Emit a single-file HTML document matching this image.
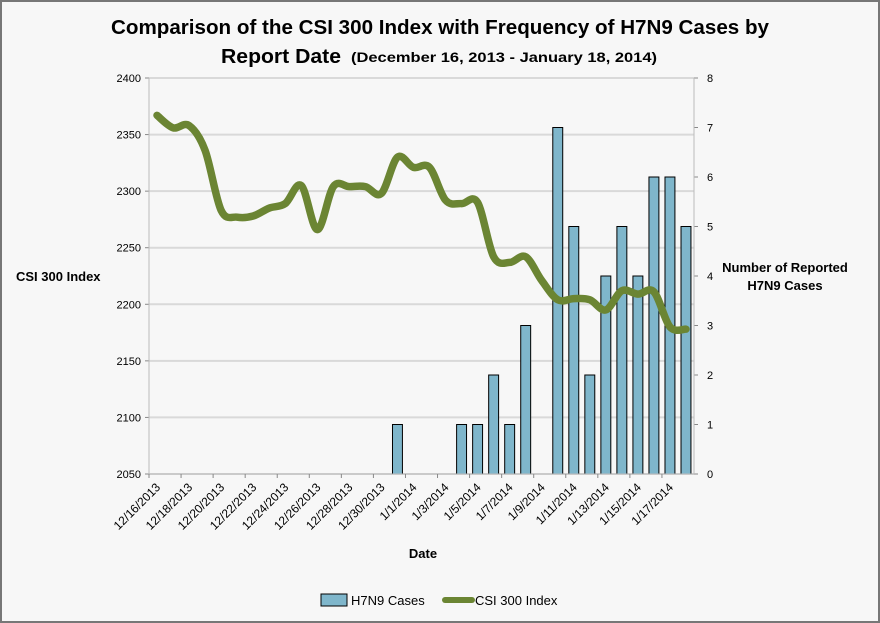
<!DOCTYPE html>
<html><head><meta charset="utf-8"><style>
html,body{margin:0;padding:0;background:#fff}
svg{display:block}
text{font-family:"Liberation Sans",sans-serif;fill:#000}
</style></head><body>
<svg id="chart" width="880" height="623" viewBox="0 0 880 623" xmlns="http://www.w3.org/2000/svg">
<rect x="1" y="1" width="878" height="621" fill="#f7f7f7" stroke="#777" stroke-width="2"/>
<text x="440" y="34" text-anchor="middle" font-size="20" font-weight="bold" textLength="658" lengthAdjust="spacingAndGlyphs">Comparison of the CSI 300 Index with Frequency of H7N9 Cases by</text>
<text x="221" y="63" font-size="20" font-weight="bold" textLength="120" lengthAdjust="spacingAndGlyphs">Report Date</text>
<text x="351" y="62" font-size="14" font-weight="bold" textLength="306" lengthAdjust="spacingAndGlyphs">(December 16, 2013 - January 18, 2014)</text>
<g id="grid"></g>
<g id="bars"></g>
<g id="axes"></g>
<path id="line" fill="none" stroke="#6b8533" stroke-width="7.5" stroke-linecap="round" stroke-linejoin="round"/>
<text x="16" y="281" font-size="13" font-weight="bold">CSI 300 Index</text>
<text x="785" y="272" text-anchor="middle" font-size="13" font-weight="bold">Number of Reported</text>
<text x="785" y="290" text-anchor="middle" font-size="13" font-weight="bold">H7N9 Cases</text>
<text x="423" y="558" text-anchor="middle" font-size="13" font-weight="bold">Date</text>
<g>
<rect x="321" y="594" width="26" height="12" fill="#7fb6cb" stroke="#000" stroke-width="1"/>
<text x="351" y="605" font-size="13">H7N9 Cases</text>
<line x1="445" y1="600" x2="472" y2="600" stroke="#6b8533" stroke-width="6" stroke-linecap="round"/>
<text x="475" y="605" font-size="13">CSI 300 Index</text>
</g>
</svg>
<script>
const categories = ["12/16/2013","12/17/2013","12/18/2013","12/19/2013","12/20/2013","12/21/2013","12/22/2013","12/23/2013","12/24/2013","12/25/2013","12/26/2013","12/27/2013","12/28/2013","12/29/2013","12/30/2013","12/31/2013","1/1/2014","1/2/2014","1/3/2014","1/4/2014","1/5/2014","1/6/2014","1/7/2014","1/8/2014","1/9/2014","1/10/2014","1/11/2014","1/12/2014","1/13/2014","1/14/2014","1/15/2014","1/16/2014","1/17/2014","1/18/2014"];
const cases = [0,0,0,0,0,0,0,0,0,0,0,0,0,0,0,1,0,0,0,1,1,2,1,3,0,7,5,2,4,5,4,6,6,5];
const csi = [2367,2356,2358,2336,2283,2277,2278,2285,2289,2305,2266,2304,2304,2304,2298,2330,2321,2321,2292,2289,2290,2242,2237,2242,2221,2204,2205,2204,2195,2212,2209,2211,2180,2178];
const leftTicks = [2050,2100,2150,2200,2250,2300,2350,2400];
const rightTicks = [0,1,2,3,4,5,6,7,8];

const NS="http://www.w3.org/2000/svg";
const X0=149,X1=694,Y0=78,Y1=474;
const bw=(X1-X0)/categories.length;
function xc(i){return X0+bw*(i+0.5);}
function yL(v){return Y1-(v-2050)/(2400-2050)*(Y1-Y0);}
function yR(v){return Y1-v/8*(Y1-Y0);}
function mk(tag,attrs,parent){const e=document.createElementNS(NS,tag);for(const k in attrs)e.setAttribute(k,attrs[k]);parent.appendChild(e);return e;}
const grid=document.getElementById('grid'),axes=document.getElementById('axes'),bars=document.getElementById('bars');
leftTicks.forEach(t=>{
  const y=yL(t);
  const g=mk('line',{x1:X0,x2:X1,y1:y,y2:y,stroke:'#d9d9d9','stroke-width':2},grid);
  
  
  const tk=mk('line',{x1:X0-4,x2:X0,y1:y,y2:y,stroke:'#888'},axes);
  
  
  const tx=mk('text',{x:X0-8,y:y+4,'text-anchor':'end','font-size':11},axes);
  tx.textContent=t;
  
  
});
rightTicks.forEach(t=>{
  const y=yR(t);
  const tk=mk('line',{x1:X1,x2:X1+4,y1:y,y2:y,stroke:'#888'},axes);
  
  
  const tx=mk('text',{x:X1+13,y:y+4,'font-size':11},axes);
  tx.textContent=t;
  
  
});
const la=mk('line',{x1:X0,x2:X0,y1:Y0,y2:Y1,stroke:'#bbb'},axes);


const ra=mk('line',{x1:X1,x2:X1,y1:Y0,y2:Y1,stroke:'#bbb'},axes);


const xa=mk('line',{x1:X0,x2:X1,y1:Y1,y2:Y1,stroke:'#bbb'},axes);


categories.forEach((c,i)=>{
  if(i%2===0){
    const x=X0+bw*i;
    const tk=mk('line',{x1:x,x2:x,y1:Y1,y2:Y1+4,stroke:'#888'},axes);
    
    
    const xx=xc(i)+4,yy=Y1+14;
    const tx=mk('text',{x:xx,y:yy,'text-anchor':'end','font-size':12,transform:`rotate(-45 ${xx} ${yy})`},axes);
    tx.textContent=c;
    
    
  }
  if(cases[i]>0){
    const w=bw*0.62;
    const r=mk('rect',{x:xc(i)-w/2,y:yR(cases[i]),width:w,height:Y1-yR(cases[i]),fill:'#7fb6cb',stroke:'#000','stroke-width':1},bars);
    
    
  }
});
const pts=csi.map((v,i)=>[xc(i),yL(v)]);
let d=`M${pts[0][0]},${pts[0][1]}`;
for(let i=0;i<pts.length-1;i++){
  const p0=pts[Math.max(0,i-1)],p1=pts[i],p2=pts[i+1],p3=pts[Math.min(pts.length-1,i+2)];
  const c1=[p1[0]+(p2[0]-p0[0])/6,p1[1]+(p2[1]-p0[1])/6];
  const c2=[p2[0]-(p3[0]-p1[0])/6,p2[1]-(p3[1]-p1[1])/6];
  d+=` C${c1[0]},${c1[1]} ${c2[0]},${c2[1]} ${p2[0]},${p2[1]}`;
}
document.getElementById('line').setAttribute('d',d);
</script>
</body></html>
